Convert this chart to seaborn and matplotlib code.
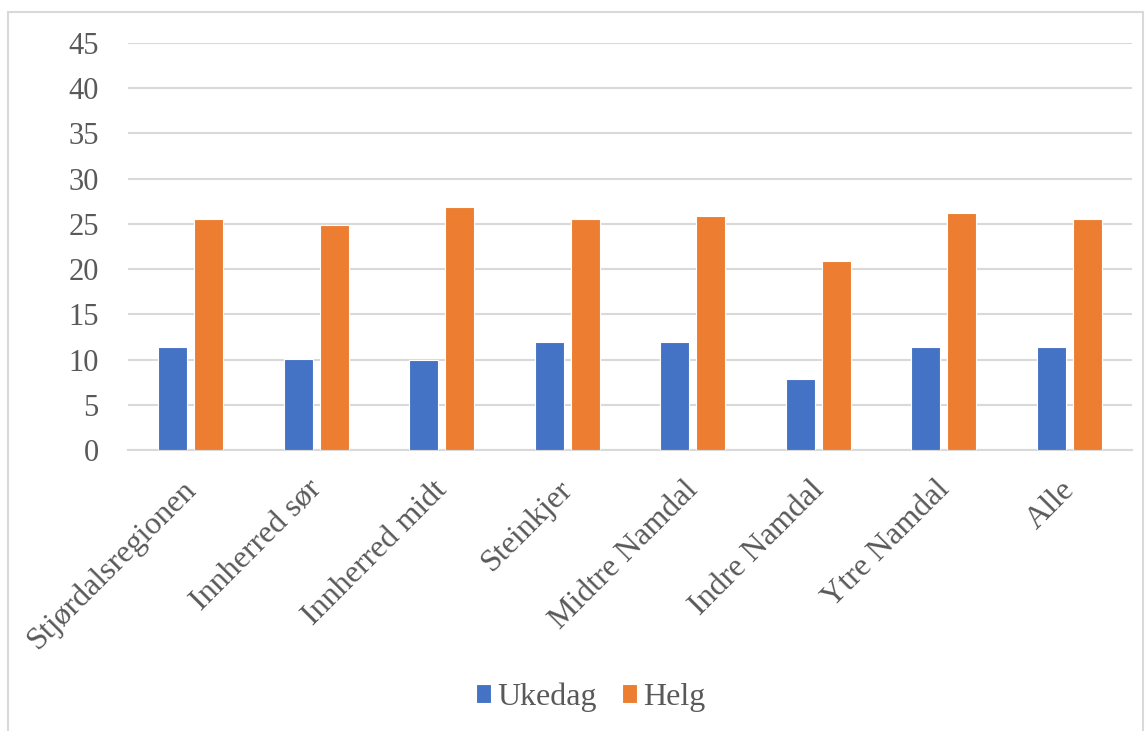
import matplotlib
matplotlib.use("Agg")
import matplotlib.pyplot as plt
import matplotlib.transforms as mtransforms
from matplotlib.patches import Rectangle
import seaborn as sns
import pandas as pd

# values
regions = ['Stjørdalsregionen', 'Innherred sør', 'Innherred midt', 'Steinkjer',
           'Midtre Namdal', 'Indre Namdal', 'Ytre Namdal', 'Alle']
ukedag = [11.4, 10.1, 10.0, 11.95, 11.9, 7.9, 11.4, 11.4]
helg = [25.5, 24.9, 26.85, 25.5, 25.85, 20.95, 26.25, 25.55]
series = ['Ukedag', 'Helg']
colors = ['#4472C4', '#ED7D31']
yticks = list(range(0, 50, 5))

df = pd.DataFrame({
    'region': regions * 2,
    'serie': ['Ukedag'] * len(regions) + ['Helg'] * len(regions),
    'verdi': ukedag + helg,
})

sns.set_theme(style='white')
plt.rcParams['font.family'] = ['Liberation Serif', 'DejaVu Serif']
text_color = '#595959'
grid_color = '#D9D9D9'

fig = plt.figure(figsize=(11.47, 7.31), dpi=100)
ax = fig.add_axes([128 / 1147, 1 - 450 / 731, (1132 - 128) / 1147, (450 - 43) / 731])

sns.barplot(data=df, x='region', y='verdi', hue='serie', hue_order=series,
            palette=colors, width=0.574, gap=0.19, edgecolor='white',
            linewidth=0.8, saturation=1, ax=ax, legend=True, zorder=3)

ax.set_ylim(0, 45)
ax.set_xlim(-0.5, len(regions) - 0.5)
ax.set_yticks(yticks)
ax.yaxis.grid(True, color=grid_color, linewidth=1.5, zorder=0)
ax.set_axisbelow(True)
for side in ['left', 'right', 'top']:
    ax.spines[side].set_visible(False)
ax.spines['bottom'].set_color(grid_color)
ax.spines['bottom'].set_linewidth(1.5)
ax.set_xlabel('')
ax.set_ylabel('')
ax.tick_params(axis='y', length=0, pad=21, labelsize=22, labelcolor=text_color)
ax.tick_params(axis='x', length=0, pad=18, labelsize=23, labelcolor=text_color)
shift = mtransforms.ScaledTranslation(-0.09, 0, fig.dpi_scale_trans)
for lbl in ax.get_xticklabels():
    lbl.set_rotation(45)
    lbl.set_ha('right')
    lbl.set_va('top')
    lbl.set_rotation_mode('anchor')
    lbl.set_transform(lbl.get_transform() + shift)

handles, labels = ax.get_legend_handles_labels()
ax.legend(handles, labels, loc='center', bbox_to_anchor=(591 / 1147, 1 - 697 / 731),
          bbox_transform=fig.transFigure, ncol=2, frameon=False, fontsize=23,
          labelcolor=text_color, handlelength=0.47, handleheight=0.5,
          handletextpad=0.2, columnspacing=0.78)

# chart area border
fig.patches.append(Rectangle((8 / 1147, -0.05), (1143 - 8) / 1147, 1.05 - 12 / 731,
                             transform=fig.transFigure, fill=False,
                             edgecolor=grid_color, linewidth=1.5))

fig.savefig('out.png', dpi=100)
